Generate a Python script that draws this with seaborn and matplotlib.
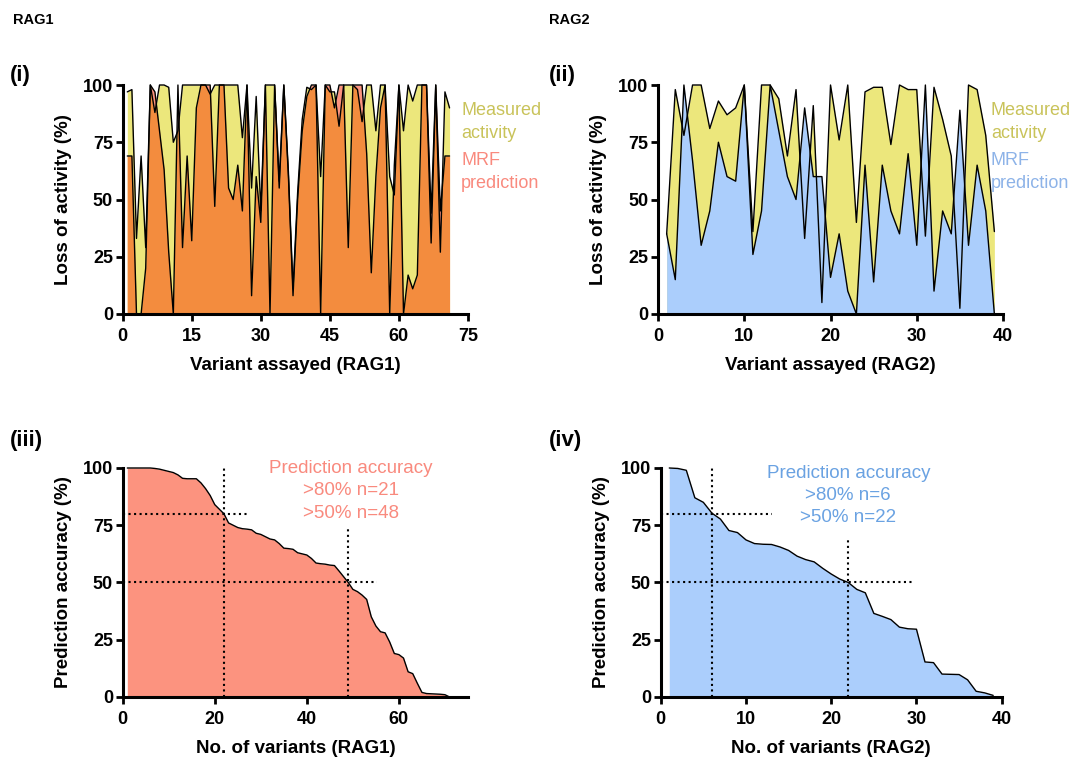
import numpy as np
import pandas as pd
import matplotlib
matplotlib.use("Agg")
import matplotlib.pyplot as plt
import seaborn as sns

# ---------------- data ----------------
# (i) RAG1: loss of activity per variant, measured vs MRF prediction
rag1_measured = [97, 98, 33, 69, 29, 100, 88, 100, 100, 99, 75, 80, 100, 100, 100,
                 100, 100, 100, 96, 100, 100, 100, 100, 100, 100, 77, 100, 55, 95, 45,
                 100, 100, 100, 58, 100, 62, 11, 53, 85, 99, 98, 100, 60, 100, 97,
                 97, 82, 100, 100, 100, 98, 84, 100, 100, 80, 100, 100, 60, 52, 100,
                 80, 100, 93, 100, 100, 100, 31, 100, 27, 97, 90]
rag1_mrf = [69, 69, 0, 0, 20, 100, 97, 80, 63, 27, 0, 100, 29, 69, 32,
            90, 100, 100, 100, 47, 100, 100, 55, 50, 65, 45, 100, 8, 60, 40,
            100, 0, 100, 55, 100, 60, 8, 50, 80, 95, 100, 100, 0, 100, 100,
            90, 100, 100, 29, 100, 100, 100, 70, 18, 60, 90, 100, 0, 65, 100,
            0, 17, 11, 17, 100, 100, 44, 100, 45, 69, 69]

# (ii) RAG2
rag2_measured = [35, 98, 78, 100, 100, 81, 93, 87, 90, 100, 36, 100, 100, 94, 69,
                 98, 33, 91, 5, 100, 76, 100, 40, 97, 99, 99, 74, 100, 98, 98,
                 34, 99, 85, 69, 2.5, 100, 98, 78, 36]
rag2_mrf = [35, 15, 100, 67, 30, 45, 75, 60, 58, 100, 26, 45, 100, 80, 60,
            50, 90, 60, 60, 16, 35, 10, 0, 65, 14, 65, 45, 35, 70, 30,
            100, 10, 45, 35, 89, 30, 65, 45, 0]

# (iii) RAG1 prediction accuracy, sorted
rag1_accuracy = [100, 100, 100, 100, 100, 100, 99.8, 99.5, 99, 98.5, 98, 97, 95.5, 95.3, 95.3,
                 95.3, 93.5, 91, 88, 84, 82, 80, 76, 75, 74, 73.5, 73.3, 73, 71.5, 71,
                 70, 69, 68.6, 67, 65, 64.8, 64.5, 63, 62.5, 62, 60.5, 58.5, 58.2, 58, 57.6,
                 57.4, 55, 52.5, 50, 47, 46, 44.5, 42.6, 35, 31, 28.5, 28, 24, 19, 18.5,
                 17, 11, 10.2, 6, 2, 1.5, 1.4, 1.3, 1.2, 1, 0]

# (iv) RAG2 prediction accuracy, sorted
rag2_accuracy = [100, 99.8, 99, 87, 85, 80.3, 77.7, 72.7, 71.8, 68.6, 67, 66.7, 66.6, 65.5, 64,
                 61.5, 60, 59, 56.2, 53.7, 51.5, 50, 47, 45.5, 36.5, 35.2, 33.8, 30.5, 29.8, 29.6,
                 15.3, 15, 10, 9.9, 9.8, 7.5, 2.5, 1.8, 0.7]

thresholds = [80, 50]
rag1_cut_x = [22, 49]
rag2_cut_x = [6, 22]
rag1_n = [21, 48]
rag2_n = [6, 22]

# ---------------- style ----------------
sns.set_style("ticks")
plt.rcParams["font.family"] = ["Liberation Sans", "DejaVu Sans"]
plt.rcParams["axes.linewidth"] = 2.2
plt.rcParams["xtick.major.width"] = 2.0
plt.rcParams["ytick.major.width"] = 2.0
plt.rcParams["xtick.major.size"] = 5
plt.rcParams["ytick.major.size"] = 5
plt.rcParams["xtick.color"] = "black"
plt.rcParams["ytick.color"] = "black"
plt.rcParams["text.color"] = "black"
plt.rcParams["axes.labelcolor"] = "black"
plt.rcParams["axes.edgecolor"] = "black"

YELLOW = "#ece77c"
ORANGE = "#f38c3e"
SALMON = "#fc937f"
BLUE = "#abcefc"
YELLOW_TXT = "#c9c35a"
SALMON_TXT = "#f98a7e"
BLUE_TXT = "#8db3e8"

fig = plt.figure(figsize=(10.8, 7.59), dpi=100)
ax1 = fig.add_axes([0.1136, 0.5863, 0.3197, 0.3017])
ax2 = fig.add_axes([0.6093, 0.5863, 0.3194, 0.3017])
ax3 = fig.add_axes([0.1136, 0.0817, 0.3197, 0.3017])
ax4 = fig.add_axes([0.6118, 0.0817, 0.3157, 0.3017])


def style_axis(ax, xmax, xticks, xlabel, ylabel):
    ax.set_xlim(0, xmax)
    ax.set_ylim(0, 100)
    ax.set_xticks(xticks)
    ax.set_yticks([0, 25, 50, 75, 100])
    ax.tick_params(labelsize=13, pad=2)
    ax.tick_params(axis="x", pad=5)
    for lab in ax.get_xticklabels() + ax.get_yticklabels():
        lab.set_fontweight("bold")
    ax.set_xlabel(xlabel, fontsize=13.5, fontweight="bold", labelpad=9)
    ax.set_ylabel(ylabel, fontsize=13.5, fontweight="bold", labelpad=8)
    sns.despine(ax=ax)


def activity_panel(ax, measured, mrf, overlap, top_col, xmax, xticks, name):
    df = pd.DataFrame({"variant": np.arange(1, len(measured) + 1),
                       "measured": measured, "mrf": mrf})
    xf = np.linspace(df.variant.min(), df.variant.max(), 4000)
    m_f = np.interp(xf, df.variant, df.measured)
    p_f = np.interp(xf, df.variant, df.mrf)
    ax.fill_between(df.variant, 0, df.mrf, color=top_col, lw=0)
    ax.fill_between(df.variant, 0, df.measured, color=YELLOW, lw=0)
    ax.fill_between(xf, 0, np.minimum(m_f, p_f), color=overlap, lw=0)
    sns.lineplot(data=df, x="variant", y="measured", color="black", lw=1, ax=ax, clip_on=False)
    sns.lineplot(data=df, x="variant", y="mrf", color="black", lw=1, ax=ax, clip_on=False)
    style_axis(ax, xmax, xticks, f"Variant assayed ({name})", "Loss of activity (%)")


def accuracy_panel(ax, acc, fill, cut_x, h_end, v_top, xmax, xticks, name):
    df = pd.DataFrame({"variant": np.arange(1, len(acc) + 1), "acc": acc})
    ax.fill_between(df.variant, 0, df.acc, color=fill, lw=0)
    sns.lineplot(data=df, x="variant", y="acc", color="black", lw=1, ax=ax, clip_on=False)
    for t, cx, he, vt in zip(thresholds, cut_x, h_end, v_top):
        ax.plot([0, he], [t, t], ls=":", color="black", lw=1.5)
        ax.plot([cx, cx], [0, vt], ls=":", color="black", lw=1.5, clip_on=False)
    style_axis(ax, xmax, xticks, f"No. of variants ({name})", "Prediction accuracy (%)")


activity_panel(ax1, rag1_measured, rag1_mrf, ORANGE, SALMON, 75, [0, 15, 30, 45, 60, 75], "RAG1")
activity_panel(ax2, rag2_measured, rag2_mrf, BLUE, BLUE, 40, [0, 10, 20, 30, 40], "RAG2")
accuracy_panel(ax3, rag1_accuracy, SALMON, rag1_cut_x, [27.3, 55.2], [100, 73.7], 75, [0, 20, 40, 60], "RAG1")
accuracy_panel(ax4, rag2_accuracy, BLUE, rag2_cut_x, [13.1, 29.6], [100, 69.3], 40, [0, 10, 20, 30, 40], "RAG2")

# legends as text next to the top panels
legend_kw = dict(fontsize=13, va="center", ha="left", linespacing=1.45)
ax1.text(0.98, 0.84, "Measured\nactivity", transform=ax1.transAxes, color=YELLOW_TXT, **legend_kw)
ax1.text(0.98, 0.62, "MRF\nprediction", transform=ax1.transAxes, color=SALMON_TXT, **legend_kw)
ax2.text(0.965, 0.84, "Measured\nactivity", transform=ax2.transAxes, color=YELLOW_TXT, **legend_kw)
ax2.text(0.965, 0.62, "MRF\nprediction", transform=ax2.transAxes, color=BLUE_TXT, **legend_kw)

acc_kw = dict(fontsize=13.5, ha="center", va="center", linespacing=1.4)
ax3.text(0.66, 0.9, f"Prediction accuracy\n>80% n={rag1_n[0]}\n>50% n={rag1_n[1]}",
         transform=ax3.transAxes, color=SALMON_TXT, **acc_kw)
ax4.text(0.55, 0.88, f"Prediction accuracy\n>80% n={rag2_n[0]}\n>50% n={rag2_n[1]}",
         transform=ax4.transAxes, color="#6aa2e2", **acc_kw)

# panel labels
fig.text(0.012, 0.974, "RAG1", fontsize=10.5, fontweight="bold", va="center")
fig.text(0.508, 0.974, "RAG2", fontsize=10.5, fontweight="bold", va="center")
fig.text(0.009, 0.901, "(i)", fontsize=16, fontweight="bold", va="center")
fig.text(0.508, 0.901, "(ii)", fontsize=16, fontweight="bold", va="center")
fig.text(0.009, 0.419, "(iii)", fontsize=16, fontweight="bold", va="center")
fig.text(0.508, 0.419, "(iv)", fontsize=16, fontweight="bold", va="center")

fig.savefig("out.png", dpi=100)
